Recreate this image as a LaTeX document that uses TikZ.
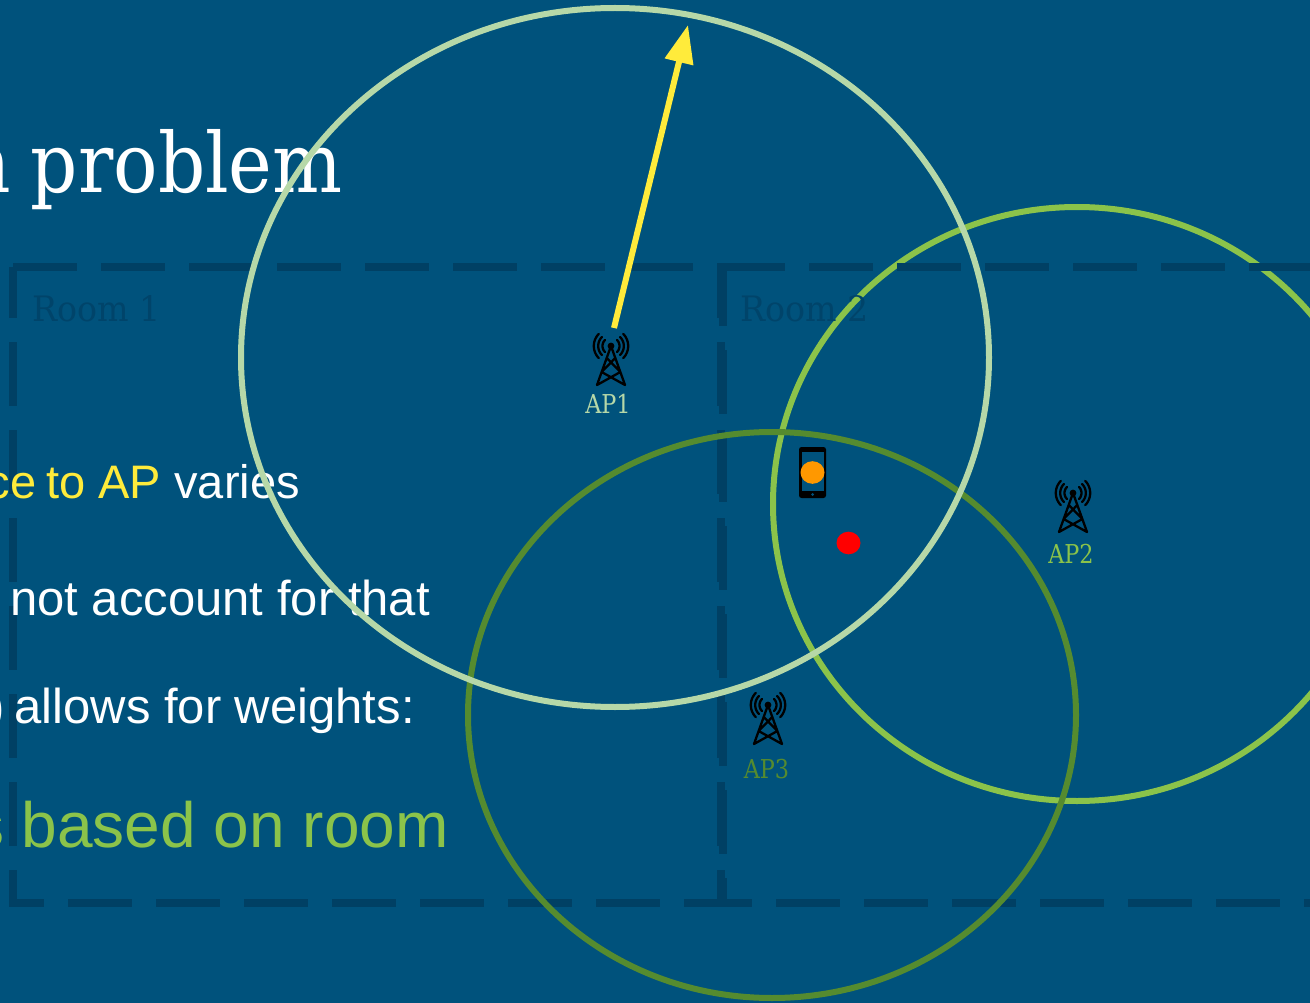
\documentclass[tikz,border=0pt]{standalone}
\usepackage{fontspec}
\usetikzlibrary{arrows.meta}
\setmainfont{Liberation Sans}
\newfontfamily\slabfont[FakeStretch=0.86]{DejaVu Serif}
\newfontfamily\roomfont[FakeStretch=0.95]{DejaVu Serif}
\newfontfamily\titlefont[FakeStretch=0.89]{DejaVu Serif}
\definecolor{bgblue}{RGB}{0,82,124}
\definecolor{roomline}{RGB}{0,64,100}
\definecolor{roomtext}{RGB}{0,68,106}
\definecolor{apone}{RGB}{182,216,168}
\definecolor{aptwo}{RGB}{139,195,74}
\definecolor{apthree}{RGB}{85,139,47}
\definecolor{arrowyellow}{RGB}{255,235,59}
\definecolor{dotorange}{RGB}{255,152,0}
\tikzset{
  x=1pt,y=-1pt,
  roomedge/.style={draw=roomline,line width=8pt,dash pattern=on 64pt off 24pt},
  roomlabel/.style={font=\roomfont\fontsize{35}{35}\selectfont,text=roomtext,anchor=base west,inner sep=0pt},
  bodytext/.style={font=\fontsize{49}{49}\selectfont,text=white,anchor=base east,inner sep=0pt},
  rangering/.style={line width=6pt,fill=none},
  aplabel/.style={font=\slabfont\fontsize{26}{26}\selectfont,anchor=base,inner sep=0pt},
  tower/.pic={
    \fill (0,0) circle (3.4);
    \draw[line width=2.3pt,line cap=round,line join=round]
      (-14,39) -- (0,0) -- (14,39)
      (-4.3,12) -- (9.4,26) -- (-14,39)
      (4.3,12) -- (-9.4,26) -- (14,39);
    \foreach \r in {8.5,12.8,17.2}{
      \draw[line width=2.3pt,line cap=round] plot[domain=-45:45,samples=13,smooth] ({\r*cos(\x)},{\r*sin(\x)});
      \draw[line width=2.3pt,line cap=round] plot[domain=-45:45,samples=13,smooth] ({-\r*cos(\x)},{\r*sin(\x)});
    }
  }
}
\begin{document}
\begin{tikzpicture}
\useasboundingbox (0,0) rectangle (1310,1003);
\clip (0,0) rectangle (1310,1003);
\fill[bgblue] (0,0) rectangle (1310,1003);
% AP2 range, below the room outlines
\draw[rangering,aptwo] (1077,504) ellipse[x radius=304,y radius=297];
% rooms
\path[roomedge] (13,267.5) -- (721,267.5);
\path[roomedge,dash phase=13.5pt] (13,267.5) -- (13,907);
\path[roomedge,dash phase=9.5pt] (721,263.5) -- (721,907);
\path[roomedge,dash phase=29pt] (9,903) -- (725,903);
\path[roomedge] (721,267.5) -- (1320,267.5);
\path[roomedge,dash phase=1.5pt] (723,263.5) -- (723,907);
\path[roomedge,dash phase=35pt] (723,903) -- (1320,903);
\node[roomlabel] (roomone) at (32,321) {Room 1};
\node[roomlabel] (roomtwo) at (740,321) {Room 2};
% slide text
\node[anchor=base east,inner sep=0pt,text=white,font=\titlefont\fontsize{83}{83}\selectfont] (title) at (343,193) {n\hspace{20pt}problem};
\node[bodytext,font=\fontsize{47}{47}\selectfont] (lineone) at (300,498) {\textcolor{arrowyellow}{ce\hspace{10pt}to AP} varies};
\node[bodytext] (linetwo) at (430,615) {not account for that};
\node[bodytext] (linethree) at (415,723) {)\hspace{10pt}allows for weights:};
\node[bodytext,font=\fontsize{64}{64}\selectfont,text=aptwo] (linefour) at (449,847) {s based on room};
% other rings
\draw[rangering,apthree] (772,715) ellipse[x radius=304,y radius=283];
\draw[rangering,apone] (615,357.5) ellipse[x radius=374,y radius=349.5];
% access points
\pic at (611,346) {tower};
\pic at (1073,493) {tower};
\pic at (768,705) {tower};
\node[aplabel,text=apone] (apa) at (608,413) {AP1};
\node[aplabel,text=aptwo] (apb) at (1071,563) {AP2};
\node[aplabel,text=apthree] (apc) at (766.5,778) {AP3};
% phone
\fill[black,rounded corners=2.5pt] (799,447) rectangle (826,498);
\fill[bgblue] (801.5,452) rectangle (824,491);
\fill[bgblue] (812.5,494.5) circle (1.5);
\fill[dotorange] (812.5,472.5) ellipse[x radius=12,y radius=11.3];
\fill[red] (848.5,543) ellipse[x radius=12,y radius=11.3];
% arrow
\coordinate (arrowfoot) at (614,328);
\coordinate (arrowtip) at (688,25);
\draw[arrowyellow,line width=6pt,-{Triangle[length=38pt,width=28pt]}] (arrowfoot) -- (arrowtip);
\end{tikzpicture}
\end{document}
